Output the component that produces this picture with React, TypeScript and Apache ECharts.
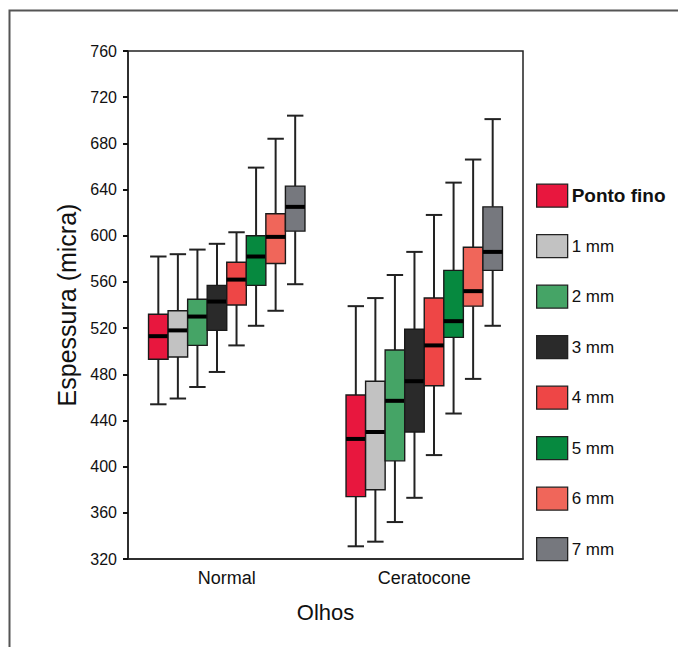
import React, { useEffect, useRef } from "react";
import * as echarts from "echarts";

const categories = ["Normal", "Ceratocone"];
const seriesNames = ["Ponto fino", "1 mm", "2 mm", "3 mm", "4 mm", "5 mm", "6 mm", "7 mm"];
const seriesColors = ["#E8173E", "#C2C2C2", "#45A466", "#2A2A2A", "#EE4646", "#06893F", "#F0665A", "#76787E"];
// [min, Q1, median, Q3, max] for Normal, Ceratocone
const pontoFino = [[454, 493, 513, 532, 582], [331, 374, 424, 462, 539]];
const mm1 = [[459, 495, 518, 535, 584], [335, 380, 430, 474, 546]];
const mm2 = [[469, 505, 530, 545, 588], [352, 405, 457, 501, 566]];
const mm3 = [[482, 518, 543, 557, 593], [373, 430, 474, 519, 586]];
const mm4 = [[505, 540, 562, 577, 603], [410, 470, 505, 546, 618]];
const mm5 = [[522, 557, 582, 600, 659], [446, 512, 526, 570, 646]];
const mm6 = [[535, 576, 599, 619, 684], [476, 539, 552, 590, 666]];
const mm7 = [[558, 604, 625, 643, 704], [522, 570, 586, 625, 701]];
const seriesData = [pontoFino, mm1, mm2, mm3, mm4, mm5, mm6, mm7];
const yTicks = { min: 320, max: 760, interval: 40 };

const FONT = "'Liberation Sans', Arial, Helvetica, sans-serif";

export default function App() {
  const ref = useRef<HTMLDivElement>(null);
  useEffect(() => {
    if (!ref.current) return;
    const chart = echarts.init(ref.current, null, { renderer: "svg" });
    const n = seriesNames.length;
    const series = seriesNames.map((name, si) => ({
      name,
      type: "custom",
      itemStyle: { color: seriesColors[si], borderColor: "#222", borderWidth: 1.2 },
      data: seriesData[si].map((v, ci) => [ci, ...v]),
      encode: { x: 0, y: [1, 2, 3, 4, 5] },
      renderItem: (params: any, api: any) => {
        const ci = api.value(0);
        const band = api.size([1, 0])[0];
        const bw = band * 0.099;
        const pMin = api.coord([ci, api.value(1)]);
        const pQ1 = api.coord([ci, api.value(2)]);
        const pMed = api.coord([ci, api.value(3)]);
        const pQ3 = api.coord([ci, api.value(4)]);
        const pMax = api.coord([ci, api.value(5)]);
        const cx = pMin[0] + (si - (n - 1) / 2) * bw;
        const half = bw / 2;
        const cap = bw * 0.42;
        const wStyle = { stroke: "#222", lineWidth: 2 };
        return {
          type: "group",
          children: [
            { type: "line", shape: { x1: cx, y1: pMax[1], x2: cx, y2: pQ3[1] }, style: wStyle },
            { type: "line", shape: { x1: cx, y1: pQ1[1], x2: cx, y2: pMin[1] }, style: wStyle },
            { type: "line", shape: { x1: cx - cap, y1: pMax[1], x2: cx + cap, y2: pMax[1] }, style: wStyle },
            { type: "line", shape: { x1: cx - cap, y1: pMin[1], x2: cx + cap, y2: pMin[1] }, style: wStyle },
            {
              type: "rect",
              shape: { x: cx - half, y: pQ3[1], width: bw, height: pQ1[1] - pQ3[1] },
              style: { fill: seriesColors[si], stroke: "#1a1a1a", lineWidth: 1.4 },
            },
            {
              type: "line",
              shape: { x1: cx - half, y1: pMed[1], x2: cx + half, y2: pMed[1] },
              style: { stroke: "#000", lineWidth: 4 },
            },
          ],
        };
      },
    }));
    chart.setOption({
      animation: false,
      backgroundColor: "#fff",
      textStyle: { fontFamily: FONT },
      graphic: [
        {
          type: "rect",
          z: -10,
          shape: { x: 9.5, y: 10.5, width: 900, height: 900 },
          style: { fill: "none", stroke: "#555", lineWidth: 2 },
        },
      ],
      grid: {
        left: 128,
        right: 155,
        top: 51,
        bottom: 88,
        show: true,
        borderColor: "#222",
        borderWidth: 1.5,
        backgroundColor: "transparent",
      },
      legend: {
        orient: "vertical",
        left: 531,
        top: 178.5,
        itemWidth: 31,
        itemHeight: 23,
        itemGap: 26.2,
        icon: "rect",
        selectedMode: false,
        data: seriesNames,
        itemStyle: { borderColor: "#222", borderWidth: 1.3 },
        formatter: (name: string) => (name === "Ponto fino" ? "{b|" + name + "}" : name),
        textStyle: {
          fontFamily: FONT,
          fontSize: 17,
          color: "#111",
          padding: [0, 0, 0, -1],
          rich: { b: { fontFamily: FONT, fontSize: 19, fontWeight: "bold", color: "#111" } },
        },
      },
      xAxis: {
        type: "category",
        data: categories,
        name: "Olhos",
        nameLocation: "middle",
        nameGap: 42,
        nameTextStyle: { fontFamily: FONT, fontSize: 22, color: "#111" },
        axisLine: { lineStyle: { color: "#222", width: 1.5 } },
        axisTick: { alignWithLabel: true, length: 4, lineStyle: { color: "#111", width: 2 } },
        axisLabel: { fontFamily: FONT, fontSize: 18, color: "#111", margin: 10 },
        splitLine: { show: false },
      },
      yAxis: {
        type: "value",
        min: yTicks.min,
        max: yTicks.max,
        interval: yTicks.interval,
        name: "Espessura (micra)",
        nameLocation: "middle",
        nameGap: 40,
        nameTextStyle: { fontFamily: FONT, fontSize: 25, color: "#111" },
        axisLine: { show: true, lineStyle: { color: "#222", width: 1.5 } },
        axisTick: { show: true, length: 5, lineStyle: { color: "#111", width: 2 } },
        axisLabel: { fontFamily: FONT, fontSize: 16, color: "#111", margin: 11 },
        splitLine: { show: false },
      },
      series,
    });
    return () => chart.dispose();
  }, []);
  return (
    <div
      ref={ref}
      style={{ position: "fixed", left: 0, top: 0, width: 678, height: 647, background: "#fff" }}
    />
  );
}
